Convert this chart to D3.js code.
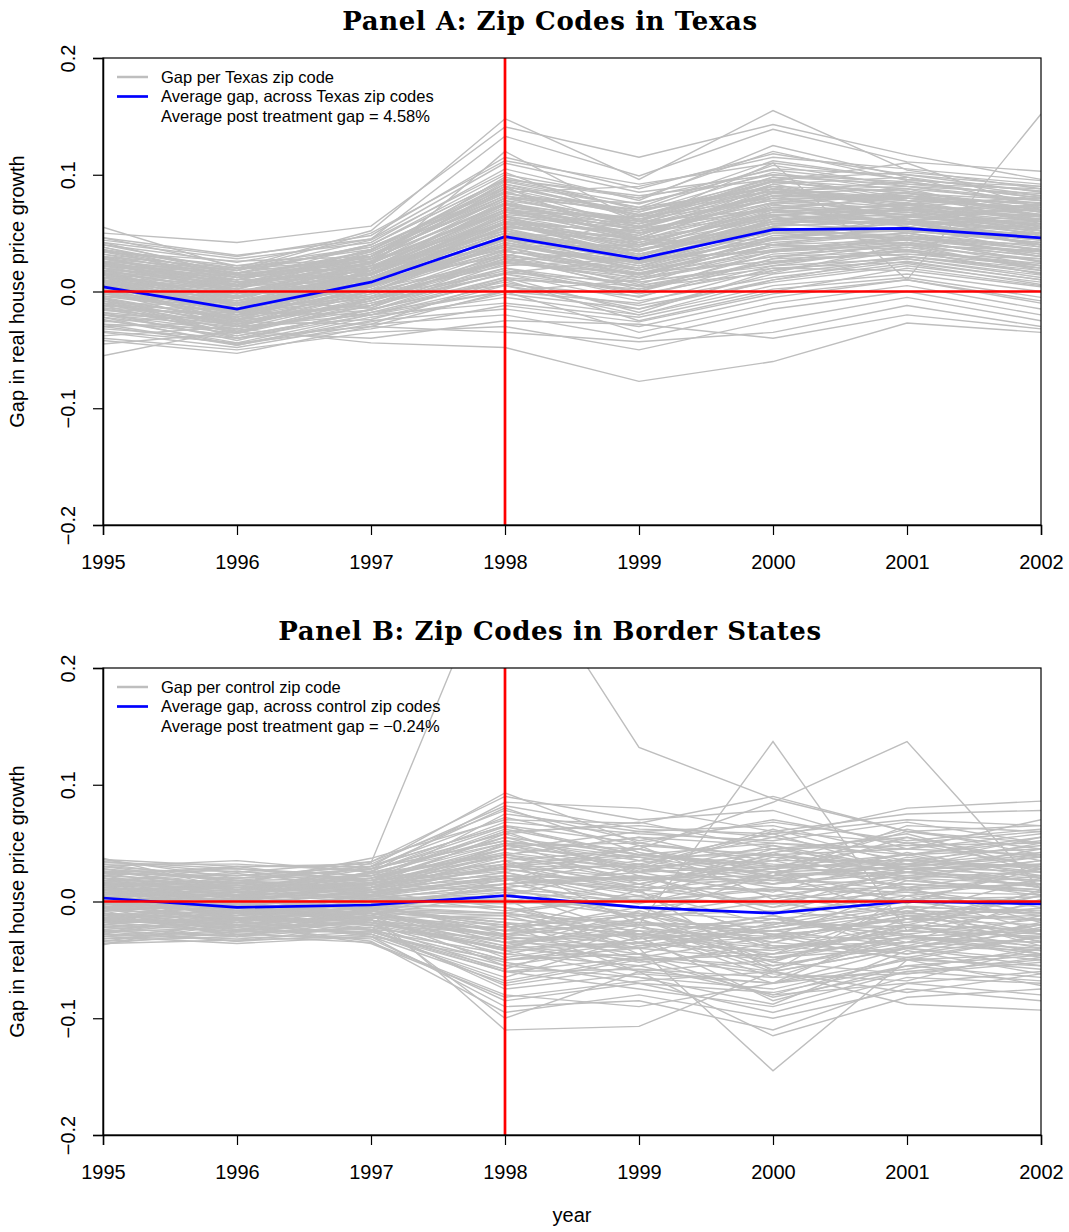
<!DOCTYPE html>
<html>
<head>
<meta charset="utf-8">
<script src="https://cdn.jsdelivr.net/npm/d3@7"></script>
<style>
  html, body { margin: 0; padding: 0; background: #fff; }
  svg { display: block; }
</style>
</head>
<body>
<svg id="chart" width="1069" height="1232"></svg>
<script>
// ---------- data ----------
const years = [1995, 1996, 1997, 1998, 1999, 2000, 2001, 2002];
const yTicks = [-0.2, -0.1, 0.0, 0.1, 0.2];
const treatmentYear = 1998;

const titleA = "Panel A: Zip Codes in Texas";
const titleB = "Panel B: Zip Codes in Border States";
const legendA = ["Gap per Texas zip code", "Average gap, across Texas zip codes", "Average post treatment gap = 4.58%"];
const legendB = ["Gap per control zip code", "Average gap, across control zip codes", "Average post treatment gap = \u22120.24%"];

// Average gap (blue)
const avgA = [0.004, -0.015, 0.008, 0.047, 0.028, 0.053, 0.054, 0.046];
const avgB = [0.003, -0.005, -0.003, 0.005, -0.005, -0.010, 0.000, -0.002];

// Gap per Texas zip code (grey), values for 1995..2002
const gapA = [
  [0.055, 0.020, 0.052, 0.148, 0.096, 0.155, 0.104, 0.088],
  [0.050, 0.042, 0.056, 0.141, 0.115, 0.143, 0.117, 0.096],
  [0.046, 0.031, 0.045, 0.133, 0.099, 0.139, 0.111, 0.103],
  [-0.055, -0.032, -0.044, -0.048, -0.077, -0.060, -0.027, -0.035],
  [-0.042, -0.053, -0.030, -0.035, -0.043, -0.035, -0.012, -0.030],
  [0.030, 0.000, 0.022, 0.120, 0.060, 0.110, 0.010, 0.152],
  [0.012, -0.020, 0.010, 0.030, 0.065, 0.095, 0.110, 0.070],
  [-0.010, -0.030, -0.005, 0.005, -0.020, 0.010, 0.030, 0.020],
  [0.020, 0.005, 0.025, 0.090, 0.040, 0.070, 0.060, 0.050],
  [0.000, -0.015, 0.005, 0.040, 0.020, 0.050, 0.055, 0.045],
  [0.025, 0.010, 0.030, 0.080, 0.070, 0.090, 0.075, 0.080],
  [-0.020, -0.040, -0.020, 0.000, -0.010, 0.020, 0.025, 0.010],
  [0.035, 0.015, 0.040, 0.100, 0.080, 0.120, 0.095, 0.090],
  [-0.030, -0.045, -0.025, -0.015, -0.030, -0.005, 0.010, -0.010],
  [0.015, -0.005, 0.015, 0.060, 0.030, 0.060, 0.070, 0.060],
  [0.005, -0.010, 0.012, 0.055, 0.045, 0.040, 0.050, 0.030],
  [-0.005, -0.025, 0.000, 0.025, 0.010, 0.030, 0.040, 0.035],
  [0.040, 0.025, 0.045, 0.110, 0.085, 0.100, 0.090, 0.075],
  [0.010, -0.012, 0.018, 0.070, 0.050, 0.080, 0.065, 0.070],
  [-0.015, -0.035, -0.010, 0.015, 0.000, 0.035, 0.045, 0.025],
  [0.022, 0.008, 0.028, 0.075, 0.055, 0.085, 0.080, 0.065],
  [-0.025, -0.038, -0.018, 0.010, -0.025, 0.000, 0.020, 0.005],
  [0.018, -0.002, 0.020, 0.050, 0.035, 0.065, 0.072, 0.055],
  [0.008, -0.018, 0.005, 0.035, 0.015, 0.045, 0.060, 0.040],
  [-0.008, -0.028, -0.008, 0.020, 0.005, 0.025, 0.035, 0.015],
  [0.028, 0.012, 0.035, 0.095, 0.075, 0.105, 0.100, 0.085],
  [0.003, -0.008, 0.015, 0.065, 0.025, 0.055, 0.045, 0.050],
  [-0.035, -0.048, -0.028, -0.020, -0.040, -0.015, 0.000, -0.020],
  [0.032, 0.018, 0.038, 0.085, 0.090, 0.115, 0.105, 0.095],
  [0.014, -0.004, 0.022, 0.045, 0.038, 0.075, 0.058, 0.062],
  [-0.012, -0.022, -0.002, 0.030, 0.020, 0.042, 0.050, 0.038],
  [0.006, -0.014, 0.008, 0.058, 0.032, 0.058, 0.068, 0.048],
  [0.024, 0.004, 0.018, 0.062, 0.048, 0.088, 0.078, 0.072],
  [-0.018, -0.042, -0.015, 0.008, -0.015, 0.015, 0.028, 0.012],
  [0.042, 0.028, 0.042, 0.105, 0.078, 0.125, 0.098, 0.082],
  [-0.002, -0.020, 0.002, 0.045, 0.012, 0.048, 0.052, 0.042],
  [0.016, -0.006, 0.026, 0.068, 0.058, 0.078, 0.085, 0.058],
  [-0.028, -0.046, -0.022, -0.005, -0.020, 0.005, 0.015, 0.000],
  [0.009, -0.016, 0.012, 0.052, 0.028, 0.062, 0.062, 0.052],
  [0.020, 0.002, 0.032, 0.078, 0.062, 0.095, 0.088, 0.078],
  [-0.006, -0.024, -0.004, 0.035, 0.018, 0.038, 0.042, 0.030],
  [0.026, 0.006, 0.024, 0.072, 0.042, 0.068, 0.075, 0.060],
  [-0.022, -0.036, -0.012, 0.020, -0.005, 0.028, 0.032, 0.022],
  [0.012, -0.010, 0.006, 0.042, 0.022, 0.052, 0.048, 0.036],
  [0.036, 0.020, 0.036, 0.092, 0.065, 0.098, 0.092, 0.088],
  [-0.040, -0.050, -0.035, -0.030, -0.050, -0.025, -0.005, -0.025],
  [0.002, -0.022, 0.004, 0.048, 0.035, 0.060, 0.058, 0.044],
  [0.018, 0.000, 0.016, 0.058, 0.052, 0.072, 0.066, 0.066],
  [-0.014, -0.032, -0.016, 0.012, 0.002, 0.032, 0.038, 0.028],
  [0.030, 0.014, 0.026, 0.088, 0.055, 0.082, 0.082, 0.074],
  [0.004, -0.006, 0.020, 0.038, 0.040, 0.045, 0.064, 0.054],
  [-0.004, -0.018, -0.006, 0.028, 0.008, 0.022, 0.038, 0.020],
  [0.022, 0.010, 0.014, 0.065, 0.045, 0.092, 0.070, 0.064],
  [0.010, -0.024, 0.010, 0.050, 0.018, 0.050, 0.055, 0.046],
  [-0.032, -0.040, -0.030, 0.000, -0.035, -0.010, 0.005, -0.015],
  [0.038, 0.016, 0.030, 0.098, 0.070, 0.108, 0.090, 0.084],
  [0.014, -0.002, 0.024, 0.072, 0.060, 0.070, 0.060, 0.058],
  [-0.010, -0.026, -0.010, 0.018, -0.002, 0.018, 0.030, 0.016],
  [0.008, -0.012, 0.016, 0.062, 0.038, 0.068, 0.074, 0.064],
  [0.020, 0.006, 0.030, 0.082, 0.068, 0.102, 0.086, 0.070],
  [-0.045, -0.035, -0.040, -0.025, -0.028, -0.040, -0.020, -0.032],
  [0.000, -0.030, -0.002, 0.022, 0.028, 0.035, 0.048, 0.032],
  [0.026, 0.002, 0.034, 0.086, 0.050, 0.085, 0.094, 0.080],
  [0.044, 0.030, 0.048, 0.115, 0.088, 0.118, 0.100, 0.090],
  [-0.020, -0.030, -0.024, 0.005, -0.012, 0.008, 0.022, 0.008],
  [0.012, -0.004, 0.010, 0.046, 0.026, 0.058, 0.052, 0.050],
  [0.006, -0.018, 0.014, 0.055, 0.042, 0.066, 0.056, 0.040],
  [0.016, -0.008, 0.008, 0.060, 0.034, 0.074, 0.068, 0.056],
  [-0.008, -0.034, -0.012, 0.015, -0.008, 0.012, 0.026, 0.010],
  [0.034, 0.022, 0.028, 0.094, 0.072, 0.112, 0.096, 0.086],
  [0.002, -0.010, 0.006, 0.032, 0.015, 0.040, 0.044, 0.034],
  [0.024, 0.012, 0.022, 0.068, 0.064, 0.080, 0.080, 0.076],
  [-0.024, -0.044, -0.020, -0.010, -0.022, 0.002, 0.012, -0.005],
  [0.010, -0.002, 0.028, 0.076, 0.046, 0.082, 0.062, 0.060],
  [-0.016, -0.026, -0.008, 0.025, 0.012, 0.030, 0.034, 0.024],
  [0.028, 0.008, 0.020, 0.074, 0.052, 0.076, 0.084, 0.068],
  [0.018, 0.004, 0.012, 0.054, 0.030, 0.064, 0.076, 0.052],
  [-0.002, -0.016, 0.004, 0.040, 0.022, 0.046, 0.046, 0.036],
  [0.032, 0.010, 0.040, 0.096, 0.082, 0.096, 0.102, 0.092],
  [0.006, -0.020, 0.000, 0.036, 0.010, 0.034, 0.040, 0.026],
  [0.038, 0.012, 0.034, 0.082, 0.058, 0.092, 0.098, 0.072],
  [-0.038, -0.030, -0.020, 0.012, -0.018, 0.018, 0.035, 0.015],
  [0.016, 0.010, 0.030, 0.092, 0.072, 0.088, 0.072, 0.082],
  [-0.026, -0.020, -0.014, 0.028, 0.015, 0.040, 0.030, 0.018],
  [0.004, -0.028, -0.008, 0.030, 0.002, 0.025, 0.042, 0.022],
  [0.028, 0.018, 0.044, 0.102, 0.060, 0.098, 0.080, 0.070],
  [-0.012, -0.038, -0.018, 0.000, 0.010, 0.045, 0.055, 0.040],
  [0.020, -0.010, 0.006, 0.044, 0.024, 0.060, 0.070, 0.054],
  [0.012, 0.006, 0.036, 0.084, 0.066, 0.090, 0.060, 0.074],
  [-0.030, -0.026, -0.028, 0.010, 0.005, 0.020, 0.018, 0.004],
  [0.042, 0.014, 0.024, 0.070, 0.054, 0.084, 0.088, 0.064],
  [0.000, -0.004, 0.010, 0.050, 0.030, 0.070, 0.058, 0.046],
  [-0.018, -0.028, 0.004, 0.038, 0.014, 0.036, 0.044, 0.026],
  [0.024, 0.000, 0.016, 0.064, 0.036, 0.058, 0.064, 0.062],
  [0.008, -0.008, 0.026, 0.058, 0.052, 0.076, 0.082, 0.066],
  [-0.006, -0.040, -0.016, 0.020, 0.000, 0.028, 0.048, 0.030],
  [0.034, 0.026, 0.030, 0.080, 0.076, 0.100, 0.094, 0.080],
  [0.016, -0.012, 0.012, 0.036, 0.040, 0.052, 0.054, 0.044],
  [-0.034, -0.044, -0.032, -0.012, -0.026, -0.002, 0.010, -0.008],
  [0.002, -0.002, 0.000, 0.042, 0.020, 0.062, 0.066, 0.048],
  [0.026, 0.016, 0.020, 0.078, 0.044, 0.072, 0.068, 0.070],
  [-0.010, -0.012, 0.008, 0.048, 0.032, 0.054, 0.040, 0.034],
  [0.014, 0.008, 0.018, 0.066, 0.056, 0.082, 0.078, 0.060],
  [0.046, 0.022, 0.038, 0.088, 0.064, 0.094, 0.084, 0.078],
  [-0.022, -0.046, -0.026, -0.002, -0.015, 0.010, 0.024, 0.006],
  [0.006, -0.026, 0.018, 0.060, 0.044, 0.064, 0.050, 0.058],
  [0.018, 0.014, 0.010, 0.050, 0.026, 0.056, 0.072, 0.056],
  [-0.004, -0.008, -0.014, 0.024, 0.016, 0.026, 0.032, 0.028],
  [0.030, 0.004, 0.036, 0.090, 0.066, 0.086, 0.074, 0.066],
  [0.010, -0.020, 0.020, 0.064, 0.040, 0.072, 0.080, 0.068],
  [-0.016, -0.018, -0.020, 0.006, -0.004, 0.022, 0.028, 0.014],
  [0.022, 0.016, 0.040, 0.096, 0.080, 0.104, 0.092, 0.082],
  [-0.028, -0.032, -0.006, 0.032, 0.006, 0.040, 0.036, 0.020],
  [0.036, 0.008, 0.014, 0.060, 0.050, 0.066, 0.060, 0.052],
  [0.004, -0.012, 0.002, 0.026, 0.036, 0.050, 0.046, 0.040],
  [-0.008, -0.022, 0.012, 0.054, 0.024, 0.046, 0.054, 0.044],
  [0.020, 0.020, 0.026, 0.070, 0.062, 0.078, 0.070, 0.074],
  [0.012, 0.002, 0.004, 0.044, 0.018, 0.044, 0.062, 0.038],
  [-0.020, -0.034, -0.008, 0.028, 0.004, 0.016, 0.040, 0.018],
  [0.040, 0.018, 0.050, 0.112, 0.092, 0.110, 0.096, 0.086],
  [0.008, -0.030, 0.006, 0.040, 0.026, 0.054, 0.052, 0.042],
  [-0.012, -0.016, -0.004, 0.016, 0.028, 0.034, 0.046, 0.032],
  [0.028, 0.006, 0.008, 0.068, 0.046, 0.080, 0.072, 0.062],
  [-0.002, -0.010, 0.018, 0.060, 0.036, 0.060, 0.060, 0.054],
  [0.016, -0.016, 0.022, 0.052, 0.034, 0.066, 0.070, 0.050],
  [0.010, -0.006, 0.020, 0.070, 0.048, 0.084, 0.076, 0.062],
  [0.022, 0.000, 0.010, 0.056, 0.040, 0.062, 0.058, 0.048],
  [-0.004, -0.014, 0.016, 0.064, 0.054, 0.070, 0.066, 0.058],
  [0.014, -0.018, 0.000, 0.046, 0.028, 0.056, 0.062, 0.046],
  [0.030, 0.020, 0.018, 0.076, 0.058, 0.090, 0.086, 0.070],
  [-0.014, -0.020, -0.012, 0.034, 0.026, 0.044, 0.050, 0.036],
  [0.006, 0.004, 0.024, 0.080, 0.060, 0.094, 0.084, 0.074],
  [0.018, -0.012, 0.006, 0.038, 0.016, 0.040, 0.056, 0.034],
  [0.000, -0.024, 0.008, 0.056, 0.046, 0.062, 0.070, 0.052],
  [0.024, 0.010, 0.032, 0.084, 0.070, 0.086, 0.090, 0.078],
  [-0.020, -0.024, -0.016, 0.016, 0.008, 0.024, 0.036, 0.022],
  [0.012, 0.000, 0.014, 0.058, 0.030, 0.068, 0.064, 0.058],
  [0.034, 0.012, 0.026, 0.090, 0.068, 0.096, 0.078, 0.072],
  [-0.006, -0.030, 0.000, 0.040, 0.024, 0.052, 0.058, 0.040],
  [0.008, -0.004, 0.012, 0.050, 0.044, 0.076, 0.070, 0.064],
  [0.020, 0.008, 0.018, 0.068, 0.050, 0.070, 0.082, 0.068],
  [-0.010, -0.036, -0.006, 0.026, 0.014, 0.034, 0.042, 0.030],
  [0.016, 0.002, 0.028, 0.074, 0.062, 0.086, 0.072, 0.070],
  [0.002, -0.014, 0.004, 0.044, 0.032, 0.056, 0.060, 0.044],
  [0.026, 0.014, 0.030, 0.080, 0.056, 0.088, 0.080, 0.076]
];

// Gap per control zip code (grey), values for 1995..2002
const gapB = [
  [0.003, 0.002, 0.033, 0.310, 0.132, 0.088, 0.060, 0.050],
  [0.010, 0.005, 0.012, 0.035, -0.020, 0.137, -0.025, 0.010],
  [-0.005, 0.008, 0.005, 0.050, 0.045, 0.085, 0.137, 0.010],
  [0.015, 0.010, 0.020, 0.060, 0.065, 0.055, 0.080, 0.086],
  [0.005, -0.020, -0.010, -0.110, -0.107, -0.060, -0.088, -0.093],
  [-0.010, -0.015, -0.020, -0.050, -0.040, -0.145, -0.050, -0.030],
  [0.000, -0.010, -0.015, -0.100, -0.060, -0.115, -0.082, -0.075],
  [0.037, 0.010, 0.030, 0.093, 0.050, 0.070, 0.050, 0.060],
  [-0.037, -0.015, -0.020, -0.060, -0.075, -0.090, -0.060, -0.050],
  [0.030, 0.035, 0.025, 0.085, 0.080, 0.060, 0.075, 0.078],
  [-0.030, -0.036, -0.030, -0.070, -0.050, -0.080, -0.070, -0.060],
  [0.020, 0.015, 0.037, 0.070, 0.067, 0.090, 0.060, 0.065],
  [-0.025, -0.030, -0.035, -0.080, -0.090, -0.070, -0.040, -0.055],
  [0.025, 0.028, 0.018, 0.055, 0.040, 0.050, 0.045, 0.040],
  [0.010, 0.000, 0.005, 0.020, 0.010, 0.000, 0.015, 0.010],
  [-0.005, -0.012, -0.008, -0.010, -0.020, -0.025, -0.010, -0.015],
  [0.015, 0.005, 0.010, 0.030, 0.020, 0.015, 0.025, 0.020],
  [-0.015, -0.020, -0.012, -0.025, -0.030, -0.040, -0.020, -0.025],
  [0.005, -0.008, 0.000, 0.010, -0.005, -0.010, 0.005, 0.000],
  [0.020, 0.012, 0.015, 0.045, 0.030, 0.035, 0.035, 0.030],
  [-0.020, -0.025, -0.018, -0.035, -0.040, -0.050, -0.030, -0.035],
  [0.000, -0.005, -0.005, 0.005, -0.010, -0.015, -0.005, -0.008],
  [0.012, 0.018, 0.008, 0.025, 0.005, 0.020, 0.010, 0.015],
  [-0.008, -0.002, -0.010, -0.015, -0.025, -0.030, -0.015, -0.020],
  [0.025, 0.020, 0.022, 0.040, 0.055, 0.030, 0.040, 0.045],
  [-0.012, -0.028, -0.022, -0.040, -0.015, -0.055, -0.035, -0.040],
  [0.008, 0.012, 0.002, 0.015, 0.025, 0.005, 0.020, 0.005],
  [-0.002, -0.018, -0.004, -0.005, -0.035, -0.020, 0.000, -0.012],
  [0.018, 0.008, 0.025, 0.050, 0.015, 0.040, 0.030, 0.050],
  [-0.018, -0.010, -0.025, -0.045, -0.055, -0.035, -0.045, -0.030],
  [0.030, 0.022, 0.030, 0.065, 0.035, 0.045, 0.055, 0.035],
  [-0.028, -0.032, -0.026, -0.055, -0.065, -0.075, -0.050, -0.045],
  [0.004, -0.002, 0.008, 0.025, 0.000, 0.010, -0.010, 0.020],
  [-0.006, -0.016, -0.014, -0.020, -0.010, -0.040, -0.025, -0.005],
  [0.014, 0.002, 0.012, 0.035, 0.045, 0.025, 0.030, 0.025],
  [-0.016, -0.022, -0.008, -0.030, -0.045, -0.060, -0.040, -0.050],
  [0.022, 0.030, 0.016, 0.075, 0.060, 0.065, 0.040, 0.055],
  [-0.022, -0.014, -0.028, -0.065, -0.030, -0.085, -0.055, -0.065],
  [0.002, -0.012, 0.004, 0.000, 0.015, -0.005, 0.010, -0.005],
  [0.006, 0.004, -0.002, 0.012, -0.015, 0.000, -0.020, 0.005],
  [-0.004, -0.008, 0.006, -0.008, 0.005, -0.030, 0.012, -0.018],
  [0.016, 0.014, 0.020, 0.042, 0.028, 0.060, 0.050, 0.038],
  [-0.014, -0.024, -0.016, -0.045, -0.025, -0.065, -0.030, -0.025],
  [0.028, 0.018, 0.028, 0.080, 0.042, 0.022, 0.065, 0.060],
  [-0.032, -0.028, -0.032, -0.085, -0.070, -0.095, -0.065, -0.070],
  [0.008, -0.004, 0.010, 0.018, 0.035, 0.020, 0.000, 0.028],
  [-0.010, -0.030, -0.006, -0.018, -0.050, -0.045, -0.005, -0.035],
  [0.012, 0.006, 0.018, 0.028, 0.012, 0.045, 0.028, 0.012],
  [-0.002, -0.006, -0.012, 0.008, -0.028, -0.012, -0.035, 0.002],
  [0.034, 0.025, 0.034, 0.090, 0.070, 0.078, 0.045, 0.070],
  [-0.034, -0.020, -0.034, -0.095, -0.080, -0.100, -0.075, -0.085],
  [0.018, 0.016, 0.006, 0.022, 0.020, 0.030, 0.022, 0.018],
  [-0.020, -0.012, -0.002, -0.028, -0.018, -0.028, -0.045, -0.022],
  [0.000, 0.008, 0.014, 0.032, 0.008, -0.020, 0.018, 0.008],
  [0.010, -0.014, -0.016, -0.035, -0.060, -0.050, -0.020, -0.045],
  [0.024, 0.010, 0.012, 0.048, 0.050, 0.038, 0.032, 0.042],
  [-0.024, -0.034, -0.020, -0.050, -0.035, -0.070, -0.058, -0.040],
  [0.006, 0.010, 0.022, 0.060, 0.022, 0.008, 0.038, 0.025],
  [-0.008, 0.000, -0.018, -0.040, -0.008, -0.035, -0.012, -0.028],
  [0.016, -0.002, 0.000, 0.008, 0.000, 0.012, 0.008, -0.010],
  [-0.016, -0.006, 0.002, 0.002, -0.045, -0.018, -0.028, -0.015],
  [0.032, 0.032, 0.026, 0.068, 0.058, 0.052, 0.068, 0.050],
  [-0.026, -0.018, -0.024, -0.072, -0.055, -0.080, -0.048, -0.058],
  [0.002, 0.016, 0.010, 0.038, 0.018, 0.028, -0.002, 0.032],
  [-0.012, -0.004, -0.020, -0.022, -0.012, -0.008, -0.018, -0.002],
  [0.012, 0.020, 0.028, 0.052, 0.038, 0.015, 0.042, 0.022],
  [-0.006, -0.026, -0.026, -0.058, -0.022, -0.052, -0.062, -0.048],
  [0.020, 0.004, 0.004, 0.018, 0.048, 0.002, 0.025, 0.045],
  [-0.020, -0.008, -0.014, -0.012, -0.038, -0.022, -0.008, -0.038],
  [0.026, 0.026, 0.014, 0.058, 0.026, 0.042, 0.058, 0.028],
  [-0.030, -0.026, -0.016, -0.042, -0.065, -0.088, -0.042, -0.062],
  [0.000, -0.010, 0.000, -0.002, 0.002, -0.002, 0.002, 0.004],
  [0.004, 0.006, 0.016, 0.026, 0.032, 0.018, 0.035, 0.015],
  [-0.004, -0.014, -0.010, -0.032, -0.028, -0.045, -0.022, -0.032],
  [0.014, 0.012, 0.024, 0.055, 0.025, 0.048, 0.020, 0.035],
  [-0.014, -0.020, -0.006, -0.048, -0.032, -0.025, -0.038, -0.012],
  [0.008, -0.016, -0.004, -0.025, 0.010, -0.060, 0.005, -0.025],
  [-0.018, 0.004, -0.012, 0.020, -0.015, 0.025, -0.015, 0.005],
  [0.036, 0.030, 0.032, 0.082, 0.062, 0.058, 0.070, 0.065],
  [-0.036, -0.033, -0.030, -0.090, -0.085, -0.110, -0.070, -0.080],
  [0.028, 0.010, 0.008, 0.030, 0.045, 0.020, 0.030, 0.040],
  [-0.028, -0.010, -0.010, -0.035, -0.025, -0.060, -0.040, -0.025],
  [0.012, 0.026, 0.018, 0.048, 0.032, 0.055, 0.035, 0.048],
  [-0.010, -0.020, -0.028, -0.060, -0.048, -0.030, -0.050, -0.055],
  [0.020, -0.004, 0.010, 0.012, 0.022, -0.010, 0.020, 0.015],
  [-0.022, -0.030, -0.008, -0.020, -0.060, -0.070, -0.020, -0.040],
  [0.006, 0.000, 0.026, 0.064, 0.040, 0.030, 0.050, 0.030],
  [-0.004, -0.022, -0.018, -0.038, -0.020, -0.058, -0.030, -0.045],
  [0.032, 0.018, 0.020, 0.050, 0.030, 0.062, 0.032, 0.055],
  [-0.032, -0.024, -0.026, -0.060, -0.058, -0.065, -0.062, -0.052],
  [0.016, 0.008, 0.002, 0.015, -0.002, 0.025, 0.040, 0.020],
  [-0.016, -0.016, -0.004, -0.010, -0.032, -0.015, -0.025, -0.030],
  [0.024, 0.022, 0.030, 0.072, 0.048, 0.040, 0.045, 0.058],
  [0.002, 0.002, -0.008, -0.018, -0.040, -0.022, -0.008, -0.010],
  [-0.024, -0.016, -0.030, -0.050, -0.045, -0.082, -0.060, -0.068],
  [0.010, 0.014, 0.006, 0.032, 0.015, 0.035, 0.012, 0.028],
  [-0.008, -0.030, -0.016, -0.030, -0.015, -0.048, -0.040, -0.018],
  [0.018, 0.024, 0.012, 0.040, 0.055, 0.048, 0.028, 0.032],
  [-0.002, 0.006, 0.000, 0.002, -0.012, 0.005, -0.012, -0.006],
  [0.034, 0.028, 0.022, 0.062, 0.040, 0.028, 0.060, 0.045],
  [-0.034, -0.030, -0.022, -0.075, -0.062, -0.070, -0.050, -0.072],
  [0.008, 0.000, 0.016, 0.022, 0.008, 0.038, 0.018, 0.010],
  [-0.012, -0.008, -0.024, -0.032, -0.052, -0.040, -0.028, -0.048],
  [0.022, 0.004, 0.024, 0.040, 0.020, 0.022, 0.055, 0.025],
  [-0.018, -0.026, -0.012, -0.055, -0.038, -0.030, -0.032, -0.035],
  [0.004, 0.010, 0.020, 0.045, 0.060, 0.050, 0.040, 0.052],
  [0.014, -0.008, -0.006, -0.010, 0.005, -0.030, -0.015, 0.008],
  [-0.026, -0.034, -0.028, -0.068, -0.048, -0.062, -0.068, -0.040],
  [0.030, 0.016, 0.034, 0.078, 0.052, 0.068, 0.052, 0.062],
  [-0.006, 0.002, -0.006, 0.015, 0.022, -0.005, 0.028, 0.012],
  [0.000, -0.018, 0.008, -0.005, -0.030, -0.012, -0.040, -0.020],
  [0.026, 0.012, 0.016, 0.035, 0.012, 0.010, 0.022, 0.035],
  [-0.020, -0.004, -0.020, -0.028, -0.010, -0.052, -0.015, -0.012],
  [0.016, 0.030, 0.030, 0.065, 0.050, 0.035, 0.062, 0.040],
  [-0.030, -0.020, -0.036, -0.082, -0.068, -0.060, -0.078, -0.062],
  [0.010, -0.006, 0.002, 0.005, 0.030, 0.012, 0.005, 0.018],
  [-0.014, -0.012, -0.002, -0.005, -0.022, -0.035, -0.005, -0.028],
  [0.036, 0.020, 0.028, 0.058, 0.068, 0.045, 0.048, 0.050],
  [-0.036, -0.026, -0.024, -0.052, -0.070, -0.078, -0.055, -0.046],
  [0.006, 0.018, 0.010, 0.030, 0.038, 0.022, 0.030, 0.038],
  [-0.010, -0.024, -0.010, -0.025, -0.005, -0.038, -0.048, -0.030],
  [0.020, 0.010, 0.028, 0.052, 0.035, 0.058, 0.025, 0.012],
  [-0.004, -0.004, -0.016, -0.042, -0.035, -0.015, -0.030, -0.042],
  [0.012, 0.000, 0.012, 0.020, 0.000, 0.042, 0.010, 0.022],
  [-0.026, -0.012, -0.018, -0.040, -0.050, -0.045, -0.035, -0.020],
  [0.008, 0.004, 0.006, 0.020, 0.012, 0.010, 0.012, 0.014],
  [-0.008, -0.010, -0.006, -0.018, -0.028, -0.032, -0.012, -0.016],
  [0.016, 0.010, 0.014, 0.030, 0.030, 0.025, 0.020, 0.026],
  [-0.016, -0.018, -0.016, -0.028, -0.036, -0.042, -0.025, -0.030],
  [0.002, -0.004, 0.004, 0.010, 0.004, -0.002, 0.008, 0.006],
  [-0.002, -0.010, -0.008, -0.012, -0.018, -0.022, -0.004, -0.010],
  [0.022, 0.016, 0.018, 0.038, 0.025, 0.030, 0.032, 0.030],
  [-0.022, -0.020, -0.020, -0.040, -0.035, -0.048, -0.030, -0.038],
  [0.012, 0.002, 0.008, 0.015, 0.020, 0.018, 0.015, 0.008],
  [-0.012, -0.014, -0.004, -0.022, -0.012, -0.028, -0.020, -0.024],
  [0.026, 0.018, 0.012, 0.045, 0.038, 0.040, 0.025, 0.038],
  [-0.026, -0.022, -0.012, -0.038, -0.048, -0.055, -0.038, -0.042],
  [0.006, 0.008, 0.012, 0.028, 0.010, 0.022, 0.025, 0.018],
  [-0.006, -0.006, -0.014, -0.025, -0.020, -0.018, -0.022, -0.028],
  [0.018, 0.006, 0.020, 0.032, 0.040, 0.032, 0.028, 0.022],
  [-0.018, -0.016, -0.008, -0.035, -0.028, -0.038, -0.035, -0.020],
  [0.000, 0.000, 0.000, 0.000, -0.005, 0.005, 0.000, -0.002],
  [0.014, 0.014, 0.004, 0.022, 0.018, 0.028, 0.036, 0.028],
  [-0.014, -0.002, -0.010, -0.030, -0.040, -0.025, -0.015, -0.034],
  [0.010, 0.012, 0.016, 0.040, 0.028, 0.015, 0.028, 0.032]
];

// ---------- drawing ----------
const svg = d3.select("#chart");
const plotLeft = 103, plotRight = 1041;
const sansFont = "'Liberation Sans', Arial, Helvetica, sans-serif";
const serifFont = "'DejaVu Serif', 'Liberation Serif', serif";

const x = d3.scaleLinear().domain([years[0], years[years.length - 1]]).range([plotLeft, plotRight]);

function drawPanel(cfg, idx) {
  const y = d3.scaleLinear().domain([-0.2, 0.2]).range([cfg.bottom, cfg.top]);
  const g = svg.append("g");

  const clipId = "clip" + idx;
  svg.append("clipPath").attr("id", clipId)
    .append("rect").attr("x", plotLeft).attr("y", cfg.top)
    .attr("width", plotRight - plotLeft).attr("height", cfg.bottom - cfg.top);

  const line = d3.line().x((d, i) => x(years[i])).y(d => y(d));
  const plot = g.append("g").attr("clip-path", `url(#${clipId})`);

  plot.selectAll("path.gap").data(cfg.gaps).enter().append("path")
    .attr("class", "gap")
    .attr("d", line)
    .attr("fill", "none")
    .attr("stroke", "#bebebe")
    .attr("stroke-width", 1.4);

  plot.append("path").datum(cfg.avg)
    .attr("d", line).attr("fill", "none")
    .attr("stroke", "#0000ff").attr("stroke-width", 2.7);

  // red reference lines
  plot.append("line")
    .attr("x1", plotLeft).attr("x2", plotRight)
    .attr("y1", y(0)).attr("y2", y(0))
    .attr("stroke", "#ff0000").attr("stroke-width", 2.7);
  plot.append("line")
    .attr("x1", x(treatmentYear)).attr("x2", x(treatmentYear))
    .attr("y1", cfg.top).attr("y2", cfg.bottom)
    .attr("stroke", "#ff0000").attr("stroke-width", 2.7);

  // box
  g.append("rect").attr("x", plotLeft).attr("y", cfg.top)
    .attr("width", plotRight - plotLeft).attr("height", cfg.bottom - cfg.top)
    .attr("fill", "none").attr("stroke", "#000").attr("stroke-width", 1.2);

  // x axis
  const xAxis = d3.axisBottom(x).tickValues(years).tickFormat(d3.format("d"))
    .tickSize(10).tickPadding(20);
  const xa = g.append("g").attr("transform", `translate(0,${cfg.bottom})`).call(xAxis);
  xa.select(".domain").attr("stroke-width", 1.5);
  xa.selectAll(".tick line").attr("stroke-width", 1.2);
  xa.selectAll("text").attr("font-family", sansFont).attr("font-size", 20).attr("fill", "#000");

  // y axis
  const yAxis = d3.axisLeft(y).tickValues(yTicks).tickSize(10)
    .tickFormat(d => d3.format(".1f")(d).replace("-", "\u2212"));
  const ya = g.append("g").attr("transform", `translate(${plotLeft},0)`).call(yAxis);
  ya.select(".domain").attr("stroke-width", 1.5);
  ya.selectAll(".tick line").attr("stroke-width", 1.2);
  ya.selectAll("text")
    .attr("font-family", sansFont).attr("font-size", 20).attr("fill", "#000")
    .attr("text-anchor", "middle")
    .attr("x", null).attr("dy", null)
    .attr("transform", "translate(-28,0) rotate(-90)");

  // y axis title
  g.append("text")
    .attr("transform", `translate(24,${(cfg.top + cfg.bottom) / 2}) rotate(-90)`)
    .attr("text-anchor", "middle")
    .attr("font-family", sansFont).attr("font-size", 20)
    .text("Gap in real house price growth");

  // panel title
  g.append("text")
    .attr("x", 550).attr("y", cfg.top - 28)
    .attr("text-anchor", "middle")
    .attr("font-family", serifFont).attr("font-weight", "bold").attr("font-size", 26)
    .attr("letter-spacing", "0.6px")
    .text(cfg.title);

  // legend
  const lg = g.append("g");
  const legColors = ["#bebebe", "#0000ff", null];
  const legWidths = [2.5, 2.7, 0];
  cfg.legend.forEach((t, i) => {
    const ly = cfg.top + 19 + i * 19.5;
    if (legColors[i]) {
      lg.append("line").attr("x1", 117).attr("x2", 148).attr("y1", ly).attr("y2", ly)
        .attr("stroke", legColors[i]).attr("stroke-width", legWidths[i]);
    }
    lg.append("text").attr("x", 161).attr("y", ly).attr("dy", "0.35em")
      .attr("font-family", sansFont).attr("font-size", 16.5).text(t);
  });
}

drawPanel({ top: 58, bottom: 525, gaps: gapA, avg: avgA, title: titleA, legend: legendA }, 0);
drawPanel({ top: 668, bottom: 1135, gaps: gapB, avg: avgB, title: titleB, legend: legendB }, 1);

svg.append("text")
  .attr("x", (plotLeft + plotRight) / 2).attr("y", 1222)
  .attr("text-anchor", "middle")
  .attr("font-family", sansFont).attr("font-size", 20)
  .text("year");
</script>
</body>
</html>
